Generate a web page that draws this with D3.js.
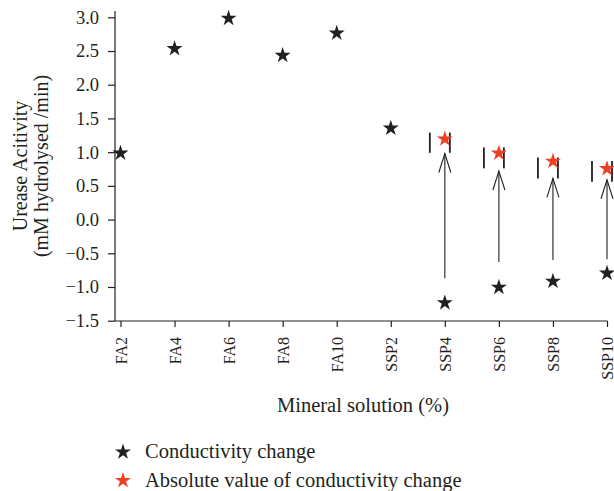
<!DOCTYPE html>
<html>
<head>
<meta charset="utf-8">
<script src="https://cdn.jsdelivr.net/npm/d3@7"></script>
<style>
  html, body { margin: 0; padding: 0; background: #fff; }
  svg { display: block; }
  text { font-family: "Liberation Serif", "DejaVu Serif", serif; fill: #231f20; }
</style>
</head>
<body>
<svg id="chart" width="614" height="491"></svg>
<script>
// Mineral solution categories
const categories = ["FA2", "FA4", "FA6", "FA8", "FA10", "SSP2", "SSP4", "SSP6", "SSP8", "SSP10"];
// Urease activity at each conductivity change
const conductivityChange = [1.0, 2.55, 3.0, 2.45, 2.78, 1.37, -1.22, -0.99, -0.9, -0.78];
// Absolute values for the negative SSP points
const absCategories = ["SSP4", "SSP6", "SSP8", "SSP10"];
const absoluteChange = [1.21, 1.0, 0.88, 0.77];
// Error bar extents around the absolute values
const errTop = [1.29, 1.07, 0.92, 0.87];
const errBottom = [0.99, 0.76, 0.61, 0.56];
// Arrows from negative value up to absolute value
const arrowFrom = [-0.87, -0.63, -0.6, -0.59];
const arrowTo = [0.98, 0.72, 0.61, 0.59];
const yTicks = [3.0, 2.5, 2.0, 1.5, 1.0, 0.5, 0.0, -0.5, -1.0, -1.5];

const BLACK = "#231f20";
const RED = "#ee4123";
const SERIF = "Liberation Serif, DejaVu Serif, serif";

const svg = d3.select("#chart");

const x = d3.scalePoint().domain(categories).range([120.5, 607]);
const y = d3.scaleLinear().domain([-1.5, 3.0]).range([320.7, 17.3]);

const axisX = 115, axisY = 321;

// Y axis
const gy = svg.append("g").attr("transform", `translate(${axisX},0)`);
gy.append("line").attr("x1", 0).attr("x2", 0).attr("y1", 11).attr("y2", axisY)
  .attr("stroke", BLACK).attr("stroke-width", 1.2);
gy.call(d3.axisLeft(y).tickValues(yTicks).tickFormat(d3.format(".1f")).tickSize(7).tickPadding(9))
  .call(g => g.select(".domain").remove())
  .call(g => g.selectAll(".tick line").attr("stroke", BLACK).attr("stroke-width", 1.2))
  .call(g => g.selectAll(".tick text").attr("font-size", 18.5).attr("fill", BLACK)
    .attr("font-family", SERIF));

// X axis
const gx = svg.append("g").attr("transform", `translate(0,${axisY})`);
gx.append("line").attr("x1", axisX).attr("x2", 607.5).attr("y1", 0).attr("y2", 0)
  .attr("stroke", BLACK).attr("stroke-width", 1.2);
gx.call(d3.axisBottom(x).tickSize(6).tickSizeOuter(0))
  .call(g => g.select(".domain").remove())
  .call(g => g.selectAll(".tick line").attr("stroke", BLACK).attr("stroke-width", 1.2))
  .call(g => g.selectAll(".tick text")
    .attr("font-size", 16).attr("fill", BLACK)
    .attr("font-family", SERIF)
    .attr("transform", "rotate(-90)")
    .attr("text-anchor", "end")
    .attr("x", -16).attr("y", 0).attr("dy", "0.35em"));

// Axis titles
svg.append("text")
  .attr("transform", "translate(27,166) rotate(-90)")
  .attr("text-anchor", "middle").attr("font-size", 20)
  .text("Urease Acitivity");
svg.append("text")
  .attr("transform", "translate(48,166) rotate(-90)")
  .attr("text-anchor", "middle").attr("font-size", 20)
  .text("(mM hydrolysed /min)");
svg.append("text")
  .attr("x", 363).attr("y", 412)
  .attr("text-anchor", "middle").attr("font-size", 20.5)
  .text("Mineral solution (%)");

const star = d3.symbol().type(d3.symbolStar).size(80);

// Error bars beside the absolute value stars
const eb = svg.append("g").attr("stroke", BLACK).attr("stroke-width", 1.8);
absCategories.forEach((c, i) => {
  [-15, 5].forEach(off => {
    eb.append("line")
      .attr("x1", x(c) + off).attr("x2", x(c) + off)
      .attr("y1", y(errTop[i])).attr("y2", y(errBottom[i]));
  });
});

// Arrows
const ar = svg.append("g").attr("stroke", BLACK).attr("stroke-width", 1.1).attr("fill", "none");
absCategories.forEach((c, i) => {
  const cx = x(c), y0 = y(arrowFrom[i]), y1 = y(arrowTo[i]);
  ar.append("line").attr("x1", cx).attr("x2", cx).attr("y1", y0).attr("y2", y1);
  ar.append("path").attr("d", `M${cx - 6},${y1 + 19}L${cx},${y1}L${cx + 6},${y1 + 19}`);
});

// Conductivity change stars
svg.append("g").selectAll("path")
  .data(categories.map((c, i) => ({ c, v: conductivityChange[i] })))
  .join("path")
  .attr("d", star)
  .attr("transform", d => `translate(${x(d.c)},${y(d.v) + 1})`)
  .attr("fill", BLACK);

// Absolute value stars
svg.append("g").selectAll("path")
  .data(absCategories.map((c, i) => ({ c, v: absoluteChange[i] })))
  .join("path")
  .attr("d", star)
  .attr("transform", d => `translate(${x(d.c)},${y(d.v) + 1})`)
  .attr("fill", RED);

// Legend
const legend = [
  { label: "Conductivity change", color: BLACK },
  { label: "Absolute value of conductivity change", color: RED }
];
const lg = svg.append("g");
legend.forEach((d, i) => {
  const ly = 452 + i * 28.5;
  lg.append("path").attr("d", star).attr("fill", d.color)
    .attr("transform", `translate(123,${ly})`);
  lg.append("text").attr("x", 145).attr("y", ly + 6)
    .attr("font-size", 20.5).text(d.label);
});
</script>
</body>
</html>
